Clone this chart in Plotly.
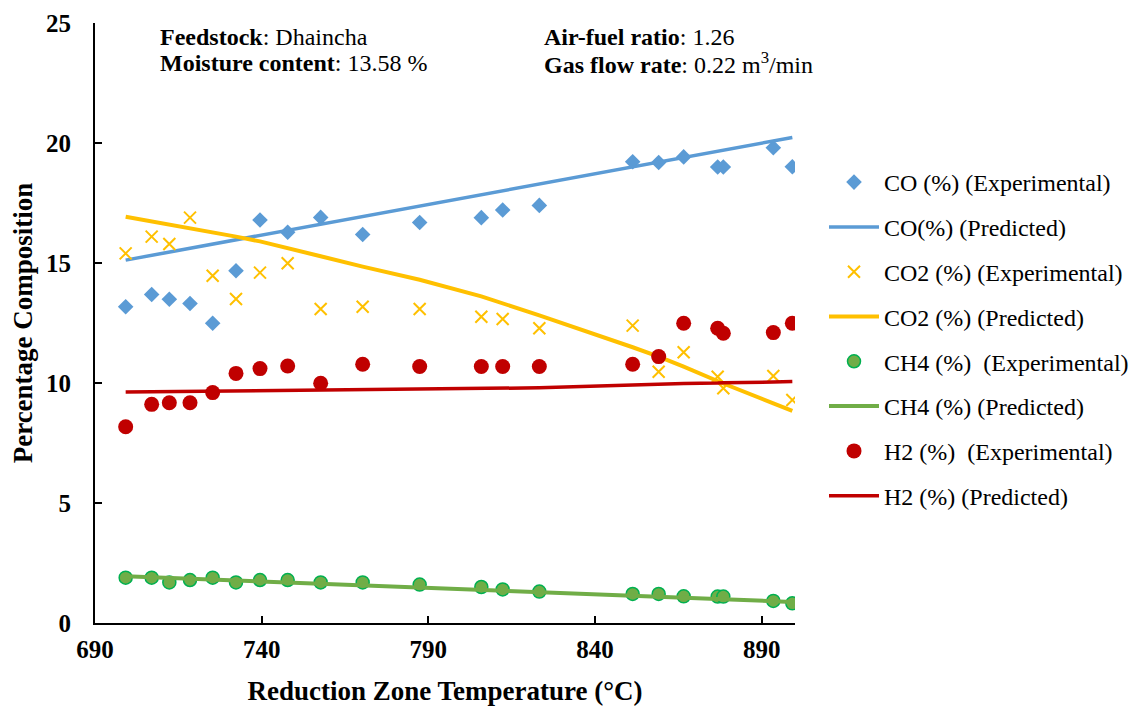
import plotly.graph_objects as go

temps = [699.2, 707.0, 712.3, 718.5, 725.3, 732.3, 739.5, 747.8, 757.7, 770.3,
         787.4, 805.9, 812.3, 823.3, 851.3, 859.1, 866.6, 876.8, 878.5, 893.5, 899.2]

co_exp = [13.18, 13.69, 13.49, 13.31, 12.49, 14.68, 16.79, 16.28, 16.90, 16.19,
          16.69, 16.89, 17.21, 17.40, 19.22, 19.19, 19.42, 19.00, 19.00, 19.80, 19.01]
co_pred = [15.12, 15.32, 15.46, 15.62, 15.79, 15.97, 16.15, 16.36, 16.62, 16.94,
           17.38, 17.85, 18.01, 18.29, 19.00, 19.20, 19.39, 19.65, 19.70, 20.08, 20.23]

co2_exp = [15.40, 16.10, 15.79, 16.89, 14.47, 13.50, 14.60, 14.99, 13.08, 13.18,
           13.08, 12.76, 12.67, 12.28, 12.39, 10.47, 11.28, 10.26, 9.78, 10.29, 9.29]
co2_pred = [16.93, 16.74, 16.61, 16.45, 16.28, 16.10, 15.90, 15.63, 15.28, 14.85,
            14.30, 13.61, 13.32, 12.82, 11.49, 11.10, 10.68, 10.08, 9.98, 9.15, 8.84]

ch4_exp = [1.89, 1.89, 1.69, 1.79, 1.89, 1.69, 1.79, 1.79, 1.69, 1.69,
           1.60, 1.50, 1.40, 1.31, 1.21, 1.21, 1.11, 1.10, 1.10, 0.92, 0.82]
ch4_pred = [1.95, 1.91, 1.88, 1.85, 1.81, 1.77, 1.73, 1.69, 1.64, 1.57,
            1.48, 1.38, 1.34, 1.29, 1.14, 1.10, 1.06, 1.00, 0.99, 0.91, 0.88]

h2_exp = [8.18, 9.11, 9.18, 9.18, 9.60, 10.40, 10.60, 10.71, 9.99, 10.78,
          10.69, 10.69, 10.69, 10.69, 10.78, 11.10, 12.49, 12.28, 12.07, 12.10, 12.49]
h2_pred = [9.62, 9.63, 9.64, 9.66, 9.68, 9.69, 9.70, 9.71, 9.72, 9.73,
           9.74, 9.76, 9.77, 9.80, 9.92, 9.96, 9.98, 10.00, 10.01, 10.04, 10.06]

x_ticks = [690, 740, 790, 840, 890]
y_ticks = [0, 5, 10, 15, 20, 25]

NB = "\u00a0"
names = ["CO (%) (Experimental)", "CO(%) (Predicted)",
         "CO2 (%) (Experimental)", "CO2 (%) (Predicted)",
         "CH4 (%)" + NB + " (Experimental)", "CH4 (%) (Predicted)",
         "H2 (%)" + NB + " (Experimental)", "H2 (%) (Predicted)"]

BLUE = "#5B9BD5"
YEL = "#FFC000"
GRN = "#70AD47"
GRN_EDGE = "#00B050"
RED = "#C00000"
FONT = "Liberation Serif"

fig = go.Figure()

fig.add_trace(go.Scatter(x=temps, y=co_exp, mode="markers", name=names[0], legendgroup="a",
                         marker=dict(symbol="diamond", size=12, color=BLUE)))
fig.add_trace(go.Scatter(x=temps, y=co_pred, mode="lines", name=names[1], legendgroup="b",
                         line=dict(color=BLUE, width=3.5)))
fig.add_trace(go.Scatter(x=temps, y=co2_exp, mode="markers", name=names[2], legendgroup="c",
                         marker=dict(symbol="x-thin-open", size=12, color=YEL,
                                     line=dict(color=YEL, width=2))))
fig.add_trace(go.Scatter(x=temps, y=co2_pred, mode="lines", name=names[3], legendgroup="d",
                         line=dict(color=YEL, width=4)))
fig.add_trace(go.Scatter(x=temps, y=ch4_exp, mode="markers", name=names[4], legendgroup="e",
                         marker=dict(symbol="circle", size=13, color=GRN,
                                     line=dict(color=GRN_EDGE, width=1.5))))
fig.add_trace(go.Scatter(x=temps, y=ch4_pred, mode="lines", name=names[5], legendgroup="f",
                         line=dict(color=GRN, width=4)))
fig.add_trace(go.Scatter(x=temps, y=h2_exp, mode="markers", name=names[6], legendgroup="g",
                         marker=dict(symbol="circle", size=15, color=RED)))
fig.add_trace(go.Scatter(x=temps, y=h2_pred, mode="lines", name=names[7], legendgroup="h",
                         line=dict(color=RED, width=3.5)))

# page body adds an 8px offset; compensate so the plot lands where the reference has it
L, R, T, B = 87, 346, 15, 86
W, H = 1133, 701

# helpers mapping reference-window pixels to paper fractions (plot spans 95..795, 23..623)
def px_x(px):
    return (px - 95) / 700.0

def px_y(py):
    return (623 - py) / 600.0

fig.update_layout(
    width=W, height=H,
    margin=dict(l=L, r=R, t=T, b=B, autoexpand=False),
    paper_bgcolor="white", plot_bgcolor="white",
    font=dict(family=FONT, color="black"),
    showlegend=True,
    legend=dict(x=px_x(824), y=px_y(160), xanchor="left", yanchor="top",
                font=dict(family=FONT, size=24, color="black"),
                tracegroupgap=10.6, traceorder="grouped",
                bgcolor="rgba(0,0,0,0)", itemwidth=50),
    xaxis=dict(range=[690, 900], tickvals=x_ticks, ticktext=[str(v) for v in x_ticks],
               showgrid=False, zeroline=False, showline=True, linecolor="black", linewidth=2,
               ticks="inside", ticklen=7, tickwidth=1.5, tickcolor="black",
               ticklabelstandoff=3, automargin=False,
               tickfont=dict(family=FONT, size=25, color="black", weight="bold"),
               title=dict(text="<b>Reduction Zone Temperature (°C)</b>", standoff=19,
                          font=dict(family=FONT, size=27, color="black"))),
    yaxis=dict(range=[0, 25], tickvals=y_ticks, ticktext=[str(v) for v in y_ticks],
               showgrid=False, zeroline=False, showline=True, linecolor="black", linewidth=2,
               ticks="inside", ticklen=7, tickwidth=1.5, tickcolor="black",
               tickfont=dict(family=FONT, size=25, color="black", weight="bold"),
               ticklabelstandoff=17, automargin=False,
               title=dict(text="<b>Percentage Composition</b>", standoff=9,
                          font=dict(family=FONT, size=27, color="black"))),
)

ann_font = dict(family=FONT, size=24, color="black")
ann = [
    ("<b>Feedstock</b>: Dhaincha", 158, 37),
    ("<b>Moisture content</b>: 13.58 %", 158, 63),
    ("<b>Air-fuel ratio</b>: 1.26", 542, 37),
    ("<b>Gas flow rate</b>: 0.22 m<sup>3</sup>/min", 542, 63),
]
for text, ax, ay in ann:
    fig.add_annotation(text=text, x=px_x(ax), y=px_y(ay), xref="paper", yref="paper",
                       xanchor="left", yanchor="middle", showarrow=False, font=ann_font)

fig.write_html("out.html")
